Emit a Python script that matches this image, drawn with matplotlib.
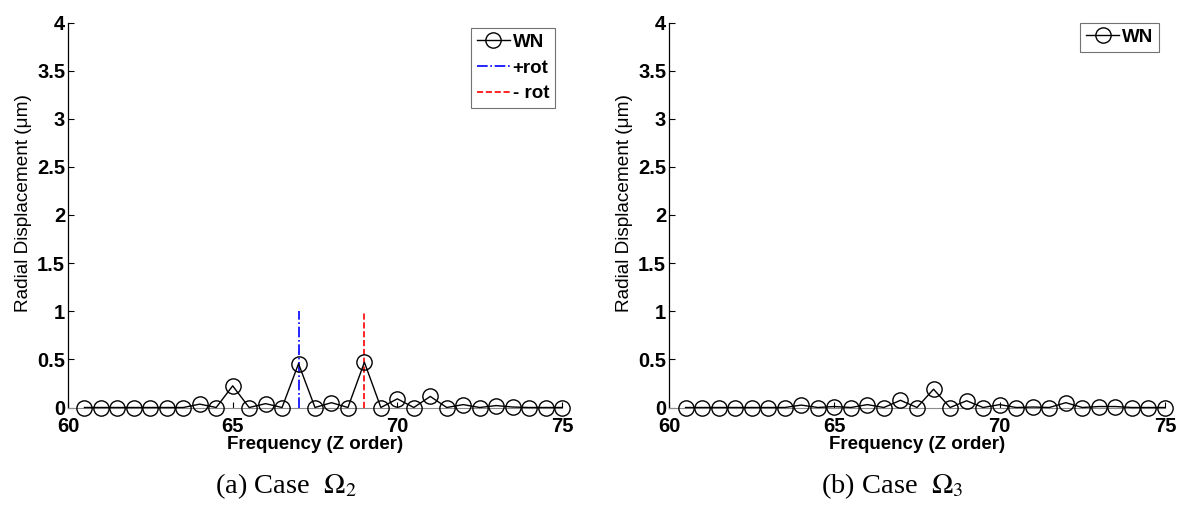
import matplotlib

matplotlib.use("Agg")
import matplotlib.pyplot as plt

# Frequency grid (Z order), half-order steps
freq = [60.5, 61, 61.5, 62, 62.5, 63, 63.5, 64, 64.5, 65,
        65.5, 66, 66.5, 67, 67.5, 68, 68.5, 69, 69.5, 70,
        70.5, 71, 71.5, 72, 72.5, 73, 73.5, 74, 74.5, 75]

# Case Omega_2 radial displacement (um)
wn_case2 = [0, 0, 0, 0, 0, 0, 0, 0.035, 0, 0.225,
            0, 0.04, 0, 0.455, 0, 0.05, 0, 0.47, 0, 0.09,
            0, 0.115, 0, 0.03, 0, 0.02, 0.005, 0, 0, 0]

# Case Omega_3 radial displacement (um)
wn_case3 = [0, 0, 0, 0, 0, 0, 0, 0.025, 0, 0.01,
            0, 0.03, 0, 0.075, 0, 0.19, 0, 0.07, 0, 0.03,
            0, 0.005, 0, 0.05, 0, 0.01, 0.01, 0, 0, 0]

# rotation marker lines (case 2 only)
plus_rot_x = 67
minus_rot_x = 69
rot_height = 1

x_ticks = [60, 65, 70, 75]
y_ticks = [0, 0.5, 1, 1.5, 2, 2.5, 3, 3.5, 4]
y_tick_labels = ["0", "0.5", "1", "1.5", "2", "2.5", "3", "3.5", "4"]

captions = ["(a) Case  $\\Omega_2$", "(b) Case  $\\Omega_3$"]

plt.rcParams["font.family"] = ["Liberation Sans", "DejaVu Sans"]
plt.rcParams["mathtext.fontset"] = "stix"

fig = plt.figure(figsize=(11.8, 5.05), dpi=100)
ax_left = fig.add_axes([68 / 1180, 97.5 / 505, 494 / 1180, 385 / 505])
ax_right = fig.add_axes([669 / 1180, 97.5 / 505, 496 / 1180, 385 / 505])


def style_axis(ax):
    ax.set_xlim(60, 75)
    ax.set_ylim(0, 4)
    ax.set_xticks(x_ticks)
    ax.set_xticklabels([str(t) for t in x_ticks], fontweight="bold", fontsize=14.5)
    ax.set_yticks(y_ticks)
    ax.set_yticklabels(y_tick_labels, fontweight="bold", fontsize=14.5)
    ax.tick_params(direction="in", length=4, width=0.8)
    ax.tick_params(axis="x", pad=7)
    ax.tick_params(axis="y", pad=2)
    ax.spines["top"].set_visible(False)
    ax.spines["right"].set_visible(False)
    ax.spines["bottom"].set_color("0.55")
    ax.spines["left"].set_linewidth(0.9)
    ax.set_xlabel("Frequency (Z order)", fontsize=13.5, fontweight="bold", labelpad=0)
    ax.set_ylabel("Radial Displacement (\u03bcm)", fontsize=13.7)
    ax.yaxis.set_label_coords(-0.073, 0.53)


wn_style = dict(color="black", marker="o", markersize=11, markerfacecolor="none",
                markeredgewidth=1.0, linewidth=1.0, clip_on=False, zorder=3)
leg_style = dict(loc="upper right", fancybox=False, edgecolor="0.3", handlelength=1.75,
                 handletextpad=0.15, borderpad=0.32, labelspacing=0.45, borderaxespad=0,
                 prop={"weight": "bold", "size": 13.5})

ax_left.plot(freq, wn_case2, label="WN", **wn_style)
ax_left.plot([plus_rot_x, plus_rot_x], [0, rot_height], color="blue",
             linestyle="-.", linewidth=1.2, label="+rot")
ax_left.plot([minus_rot_x, minus_rot_x], [0, rot_height], color="red",
             linestyle="--", linewidth=1.2, label="- rot")
style_axis(ax_left)
leg = ax_left.legend(bbox_to_anchor=(0.986, 0.986), **leg_style)
leg.get_frame().set_linewidth(0.8)

ax_right.plot(freq, wn_case3, label="WN", **wn_style)
style_axis(ax_right)
leg = ax_right.legend(bbox_to_anchor=(0.988, 0.999), **leg_style)
leg.get_frame().set_linewidth(0.8)

fig.text(286 / 1180, 1 - 493 / 505, captions[0], ha="center", va="baseline",
         fontsize=20.5, family="Liberation Serif")
fig.text(892 / 1180, 1 - 493 / 505, captions[1], ha="center", va="baseline",
         fontsize=20.5, family="Liberation Serif")

fig.savefig("out.png", dpi=100)
